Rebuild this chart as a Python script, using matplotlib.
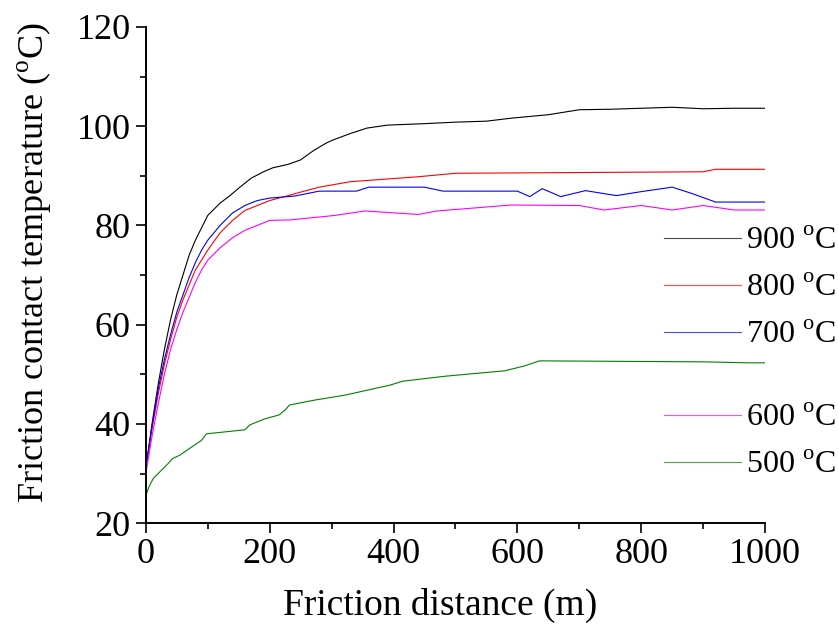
#!/usr/bin/env python
# -*- coding: utf-8 -*-

import numpy as np
import matplotlib
matplotlib.use('Agg')
import matplotlib.pyplot as plt
from matplotlib.ticker import MultipleLocator

plt.rcParams['font.family'] = 'Liberation Serif'
plt.rcParams['mathtext.fontset'] = 'custom'
plt.rcParams['mathtext.rm'] = 'Liberation Serif'

# Values (distance in m, temperature in degC)
x_900 = [0, 10, 20, 30, 40, 50, 60, 70, 80, 90, 100, 120, 136, 150, 170, 190, 205,
         230, 250, 270, 290, 302, 330, 357, 390, 450, 500, 550, 590, 650, 700,
         750, 800, 850, 900, 950, 1000]
t_900 = [31, 40, 48, 55, 61, 66, 70, 74, 77, 79.5, 82, 84.5, 86, 87.5, 89.5, 90.8, 91.6,
         92.3, 93.2, 95, 96.5, 97.2, 98.5, 99.6, 100.2, 100.5, 100.8, 101, 101.6, 102.3, 103.3,
         103.4, 103.6, 103.8, 103.5, 103.6, 103.6]

x_800 = [0, 10, 20, 30, 40, 50, 60, 70, 80, 90, 100, 120, 140, 160, 180, 200,
         230, 250, 280, 330, 440, 500, 900, 920, 1000]
t_800 = [31, 39, 46, 52, 57, 61.5, 65, 68, 71, 73, 75, 78.5, 81, 83, 84, 85,
         86, 86.7, 87.7, 88.8, 89.8, 90.5, 90.8, 91.3, 91.3]

x_700 = [0, 10, 20, 30, 40, 50, 60, 70, 80, 90, 100, 120, 140, 160, 180, 200,
         240, 280, 340, 360, 450, 480, 600, 620, 640, 670, 710, 760, 800, 850,
         880, 920, 1000]
t_700 = [31, 39.5, 47, 53, 58, 62.5, 66, 69.5, 72.5, 75, 77, 80, 82.5, 84, 85, 85.5,
         85.9, 86.9, 86.9, 87.7, 87.7, 86.9, 86.9, 85.8, 87.4, 85.8, 87.0, 86.0, 86.8, 87.7,
         86.5, 84.7, 84.7]

x_600 = [0, 10, 20, 30, 40, 50, 60, 70, 80, 90, 100, 120, 140, 160, 180, 200,
         233, 305, 354, 440, 470, 590, 700, 740, 800, 850, 900, 950, 1000]
t_600 = [30, 37.5, 44, 50, 55, 59, 62.5, 65.5, 68.5, 71, 73, 75.5, 77.5, 79, 80, 81,
         81.1, 82, 82.9, 82.2, 82.9, 84.1, 84.0, 83.1, 84.0, 83.1, 84.0, 83.1, 83.1]

x_500 = [0, 5, 12, 20, 28, 36, 43, 55, 70, 82, 90, 98, 160, 168, 192, 215, 225,
         232, 273, 322, 358, 394, 415, 483, 580, 612, 636, 900, 975, 1000]
t_500 = [25.5, 27.3, 29, 30, 31, 32, 33, 33.7, 35, 36, 36.7, 38, 38.8, 39.8, 41, 41.8, 42.8,
         43.8, 44.8, 45.8, 46.8, 47.8, 48.6, 49.6, 50.7, 51.7, 52.7, 52.5, 52.3, 52.3]

series = [(x_900, t_900, 'black', '900'),
          (x_800, t_800, 'red', '800'),
          (x_700, t_700, 'blue', '700'),
          (x_600, t_600, 'magenta', '600'),
          (x_500, t_500, 'green', '500')]


def main():
    fig = plt.figure(figsize=(8.38, 6.25), dpi=100)
    ax = fig.add_axes([0.174, 0.163, 0.739, 0.794])

    lines = []
    for xs, ts, col, lab in series:
        ln, = ax.plot(xs, ts, color=col, lw=0.8, label=lab + r' $^{\rm o}$C')
        lines.append(ln)

    ax.set_xlim(0, 1000)
    ax.set_ylim(20, 120)
    ax.xaxis.set_major_locator(MultipleLocator(200))
    ax.xaxis.set_minor_locator(MultipleLocator(100))
    ax.yaxis.set_major_locator(MultipleLocator(20))
    ax.yaxis.set_minor_locator(MultipleLocator(10))

    for side in ['top', 'right']:
        ax.spines[side].set_visible(False)
    for side in ['left', 'bottom']:
        ax.spines[side].set_linewidth(1.4)

    ax.tick_params(which='major', direction='out', length=7, width=1.2,
                   labelsize=26, pad=4)
    ax.tick_params(which='minor', direction='out', length=4, width=1.2)

    ax.set_xlabel('Friction distance (m)', fontsize=27)
    ax.set_ylabel(r'Friction contact temperature ($^{\rm o}$C)', fontsize=26)
    # labels sit a bit off-centre in the reference
    ax.xaxis.set_label_coords(0.475, -0.13)
    ax.yaxis.set_label_coords(-0.15, 0.525)

    # Legend split in two groups, as in the reference
    kw = dict(loc='upper left', frameon=False, fontsize=23, handlelength=2.4,
              handletextpad=0.15, labelspacing=0.55, borderpad=0, borderaxespad=0)
    leg1 = ax.legend(handles=lines[:3], bbox_to_anchor=(0.837, 0.597), **kw)
    for h in leg1.legend_handles:
        h.set_alpha(0.7)
    ax.add_artist(leg1)
    leg2 = ax.legend(handles=lines[3:], bbox_to_anchor=(0.837, 0.24), **kw)
    for h in leg2.legend_handles:
        h.set_alpha(0.7)

    fig.savefig('out.png', dpi=100)


if __name__ == "__main__":
    main()
